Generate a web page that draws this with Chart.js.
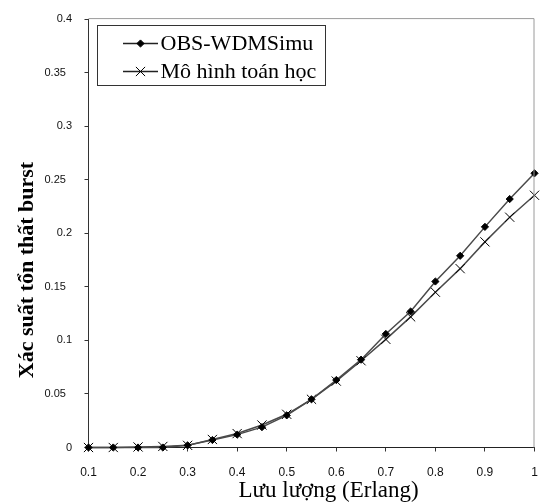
<!DOCTYPE html>
<html>
<head>
<meta charset="utf-8">
<script src="https://cdn.jsdelivr.net/npm/chart.js@4/dist/chart.umd.min.js"></script>
<style>
  html, body { margin: 0; padding: 0; background: #fff; }
  #c { display: block; }
</style>
</head>
<body>
<canvas id="c" width="542" height="504"></canvas>
<script>
// Offered traffic (Erlang)
const traffic = [0.1, 0.15, 0.2, 0.25, 0.3, 0.35, 0.4, 0.45, 0.5, 0.55,
                 0.6, 0.65, 0.7, 0.75, 0.8, 0.85, 0.9, 0.95, 1.0];
// Burst loss probability from the OBS-WDMSimu simulator
const obsSim = [0, 0, 0, 0, 0.002, 0.007, 0.012, 0.019, 0.030, 0.045,
                0.063, 0.082, 0.106, 0.127, 0.155, 0.179, 0.206, 0.232, 0.256];
// Burst loss probability from the analytical model
const model = [0, 0, 0.0005, 0.001, 0.002, 0.0075, 0.013, 0.021, 0.031, 0.045,
               0.062, 0.081, 0.101, 0.122, 0.145, 0.167, 0.192, 0.215, 0.2355];

const seriesNames = ['OBS-WDMSimu', 'Mô hình toán học'];
const xTickLabels = ['0.1', '0.2', '0.3', '0.4', '0.5', '0.6', '0.7', '0.8', '0.9', '1'];
const yTickLabels = ['0', '0.05', '0.1', '0.15', '0.2', '0.25', '0.3', '0.35', '0.4'];
const xTitle = 'Lưu lượng (Erlang)';
const yTitle = 'Xác suất tổn thất burst';

const serif = '"Liberation Serif", "Times New Roman", serif';
const sans = '"Liberation Sans", Arial, sans-serif';

const seriesStyles = [
  { pointStyle: 'rectRot', radius: 3.6, legendRadius: 3.6, fill: '#000' },
  { pointStyle: 'crossRot', radius: 6.5, legendRadius: 6.5, fill: 'transparent' }
];

// Frame lines, axis titles and the boxed legend inside the plot
const decorations = {
  id: 'decorations',
  afterDraw(chart) {
    const ctx = chart.ctx;
    const a = chart.chartArea;
    ctx.save();

    // light frame on the top and right of the plot area
    ctx.strokeStyle = '#9a9a9a';
    ctx.lineWidth = 1;
    ctx.beginPath();
    ctx.moveTo(a.left, a.top - 0.5);
    ctx.lineTo(a.right - 0.5, a.top - 0.5);
    ctx.lineTo(a.right - 0.5, a.bottom);
    ctx.stroke();

    // axis titles
    ctx.fillStyle = '#000';
    ctx.font = '23px ' + serif;
    ctx.textAlign = 'left';
    ctx.textBaseline = 'alphabetic';
    ctx.fillText(xTitle, 238.5, 496.5);

    ctx.save();
    ctx.translate(33, 270);
    ctx.rotate(-Math.PI / 2);
    ctx.font = 'bold 22px ' + serif;
    ctx.textAlign = 'center';
    ctx.fillText(yTitle, 0, 0);
    ctx.restore();

    // legend
    const lx = 97.5, ly = 25.5;
    const lineX0 = 123, lineX1 = 158, textX = 160.5;
    const rows = [43.5, 71.5];
    const baselines = [50, 78];
    ctx.font = '22px ' + serif;
    let maxW = 0;
    chart.data.datasets.forEach(ds => { maxW = Math.max(maxW, ctx.measureText(ds.label).width); });
    const boxW = Math.round(textX + maxW + 9 - lx);
    ctx.fillStyle = '#fff';
    ctx.fillRect(lx, ly, boxW, 60);
    ctx.strokeStyle = '#333';
    ctx.lineWidth = 1;
    ctx.strokeRect(lx, ly, boxW, 60);

    chart.data.datasets.forEach((ds, i) => {
      const st = seriesStyles[i];
      ctx.strokeStyle = '#222';
      ctx.lineWidth = 1.3;
      ctx.beginPath();
      ctx.moveTo(lineX0, rows[i]);
      ctx.lineTo(lineX1, rows[i]);
      ctx.stroke();
      ctx.fillStyle = st.fill;
      ctx.strokeStyle = '#000';
      ctx.lineWidth = 1;
      Chart.helpers.drawPoint(ctx, {
        pointStyle: st.pointStyle, radius: st.legendRadius, rotation: 0, borderWidth: 1
      }, (lineX0 + lineX1) / 2, rows[i]);
      ctx.fillStyle = '#000';
      ctx.textAlign = 'left';
      ctx.textBaseline = 'alphabetic';
      ctx.fillText(ds.label, textX, baselines[i]);
    });

    ctx.restore();
  }
};

const makeSeries = (label, values, i) => ({
  label,
  data: traffic.map((x, k) => ({ x, y: values[k] })),
  borderColor: '#4a4a4a',
  borderWidth: 1.5,
  pointStyle: seriesStyles[i].pointStyle,
  pointRadius: seriesStyles[i].radius,
  pointBackgroundColor: seriesStyles[i].fill,
  pointBorderColor: '#000',
  pointBorderWidth: 1,
  tension: 0,
  clip: false
});

new Chart(document.getElementById('c'), {
  type: 'line',
  data: {
    datasets: [
      makeSeries(seriesNames[0], obsSim, 0),
      makeSeries(seriesNames[1], model, 1)
    ]
  },
  options: {
    responsive: false,
    animation: false,
    devicePixelRatio: 1,
    layout: { padding: { top: 13, right: 4, left: 0, bottom: 0 } },
    plugins: { legend: { display: false }, tooltip: { enabled: false } },
    scales: {
      x: {
        type: 'linear',
        min: 0.1,
        max: 1,
        afterFit(scale) {
          scale.height = 56.5;
          scale.paddingLeft = 0;
          scale.paddingRight = 0;
        },
        grid: { drawOnChartArea: false, tickLength: 4, color: '#333' },
        border: { color: '#222', width: 1 },
        ticks: {
          stepSize: 0.1,
          padding: 14,
          maxRotation: 0,
          color: '#111',
          font: { family: sans, size: 12 },
          callback: (v, i) => xTickLabels[i]
        }
      },
      y: {
        min: 0,
        max: 0.4,
        afterFit(scale) { scale.width = 88.5; },
        grid: { drawOnChartArea: false, tickLength: 4, color: '#333' },
        border: { color: '#333', width: 1 },
        ticks: {
          stepSize: 0.05,
          padding: 12.5,
          color: '#111',
          font: { family: sans, size: 11 },
          callback: (v, i) => yTickLabels[i] + (yTickLabels[i].length > 3 ? '\u2007' : '')
        }
      }
    }
  },
  plugins: [decorations]
});
</script>
</body>
</html>
